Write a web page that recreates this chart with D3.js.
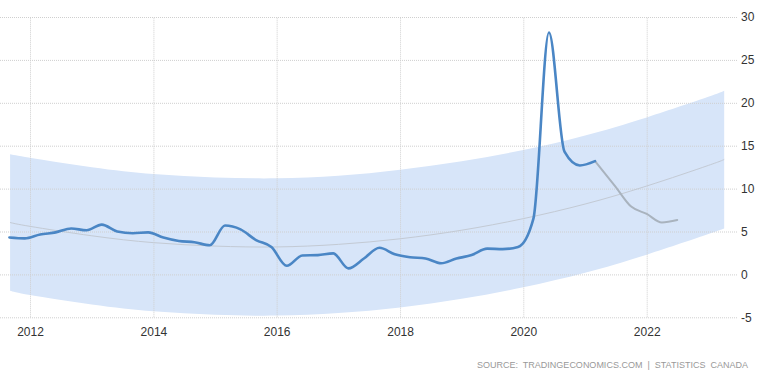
<!DOCTYPE html>
<html>
<head>
<meta charset="utf-8">
<script src="https://cdn.jsdelivr.net/npm/d3@7"></script>
<style>
  body { margin: 0; background: #fff; }
  svg { display: block; font-family: "Liberation Sans", Arial, sans-serif; }
  .grid line { stroke: #cfcfcf; stroke-dasharray: 1,1; }
  .grid path { display: none; }
  .grid text { fill: #333; font-size: 12px; }
</style>
</head>
<body>
<div id="chart"></div>
<script>
// quarterly values (blue part)
var dates = ["2011-09-01","2011-12-01","2012-03-01","2012-06-01","2012-09-01","2012-12-01",
  "2013-03-01","2013-06-01","2013-09-01","2013-12-01","2014-03-01","2014-06-01","2014-09-01","2014-12-01",
  "2015-03-01","2015-06-01","2015-09-01","2015-12-01","2016-03-01","2016-06-01","2016-09-01","2016-12-01",
  "2017-03-01","2017-06-01","2017-09-01","2017-12-01","2018-03-01","2018-06-01","2018-09-01","2018-12-01",
  "2019-03-01","2019-06-01","2019-09-01","2019-12-01","2020-03-01","2020-06-01","2020-09-01","2020-12-01",
  "2021-03-01"];
var values = [4.3, 4.2, 4.65, 4.9, 5.35, 5.15,
  5.8, 5.0, 4.8, 4.9, 4.3, 3.9, 3.75, 3.4,
  5.7, 5.25, 4.0, 3.2, 1.0, 2.2, 2.25, 2.45,
  0.7, 1.85, 3.1, 2.35, 2.0, 1.85, 1.3, 1.85,
  2.25, 3.0, 2.95, 3.2, 6.5, 28.2, 14.3, 12.7,
  13.2];

// latest values drawn in grey
var greyDates = ["2021-03-01","2021-07-01","2021-10-01","2022-01-01","2022-04-01","2022-07-01"];
var greyValues = [13.2, 10.2, 7.9, 7.05, 6.05, 6.33];

// trend curve and its band
var bandDates = ["2011-09-05","2012-01-01","2013-01-01","2014-01-01","2015-01-01","2016-01-01","2017-01-01",
  "2018-01-01","2019-01-01","2020-01-01","2021-01-01","2022-01-01","2023-01-01","2023-04-05"];
var trendValues = [6.05, 5.6, 4.5, 3.7, 3.3, 3.2, 3.5, 4.15, 5.15, 6.5, 8.2, 10.3, 12.7, 13.4];
var bandUpper = [14.0, 13.6, 12.5, 11.7, 11.3, 11.2, 11.5, 12.2, 13.2, 14.5, 16.2, 18.3, 20.7, 21.4];
var bandLower = [-1.9, -2.4, -3.5, -4.3, -4.7, -4.8, -4.5, -3.85, -2.85, -1.5, 0.2, 2.3, 4.7, 5.35];

var xTickYears = [2012, 2014, 2016, 2018, 2020, 2022];
var yTicks = [-5, 0, 5, 10, 15, 20, 25, 30];

var W = 767, H = 380;
var parse = d3.timeParse("%Y-%m-%d");

var svg = d3.select("#chart").append("svg")
  .attr("width", W)
  .attr("height", H);

var x = d3.scaleTime()
  .domain([new Date(2012, 0, 1), new Date(2022, 0, 1)])
  .range([30, 646.7]);
var y = d3.scaleLinear()
  .domain([-5, 30])
  .range([317.3, 17]);

// band
var band = bandDates.map((d, i) => ({ date: parse(d), lo: bandLower[i], hi: bandUpper[i], mid: trendValues[i] }));
svg.append("path")
  .datum(band)
  .attr("fill", "#d7e5f9")
  .attr("d", d3.area()
    .curve(d3.curveNatural)
    .x(d => x(d.date))
    .y0(d => y(d.lo))
    .y1(d => y(d.hi)));

// grid + axes
svg.append("g")
  .attr("class", "grid")
  .attr("transform", "translate(737,0)")
  .call(d3.axisRight(y).tickValues(yTicks).tickSize(-737).tickPadding(4).tickFormat(d => String(d)));

svg.append("g")
  .attr("class", "grid")
  .attr("transform", "translate(0,317.3)")
  .call(d3.axisBottom(x)
    .tickValues(xTickYears.map(yr => new Date(yr, 0, 1)))
    .tickSize(-300.3)
    .tickPadding(10)
    .tickFormat(d3.timeFormat("%Y")));

// trend line
svg.append("path")
  .datum(band)
  .attr("fill", "none")
  .attr("stroke", "#c3cad4")
  .attr("stroke-width", 1)
  .attr("d", d3.line().curve(d3.curveNatural).x(d => x(d.date)).y(d => y(d.mid)));

var line = d3.line()
  .curve(d3.curveMonotoneX)
  .x(d => x(d.date))
  .y(d => y(d.v));

svg.append("path")
  .datum(greyDates.map((d, i) => ({ date: parse(d), v: greyValues[i] })))
  .attr("fill", "none")
  .attr("stroke", "#a9b3be")
  .attr("stroke-width", 2)
  .attr("stroke-linecap", "round")
  .attr("d", line);

svg.append("path")
  .datum(dates.map((d, i) => ({ date: parse(d), v: values[i] })))
  .attr("fill", "none")
  .attr("stroke", "#4a86c5")
  .attr("stroke-width", 2.6)
  .attr("stroke-linecap", "round")
  .attr("stroke-linejoin", "round")
  .attr("d", line);

// source
svg.append("text")
  .attr("x", 748)
  .attr("y", 367.5)
  .attr("text-anchor", "end")
  .attr("fill", "#999")
  .attr("font-size", "9px")
  .style("white-space", "pre")
  .attr("textLength", 271)
  .attr("lengthAdjust", "spacing")
  .text("SOURCE:  TRADINGECONOMICS.COM  |  STATISTICS  CANADA");
</script>
</body>
</html>
